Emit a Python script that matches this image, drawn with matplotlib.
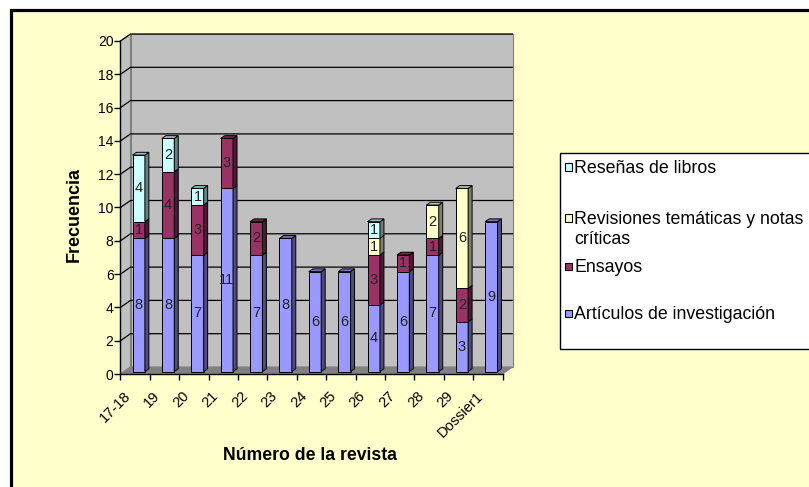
import numpy as np
import matplotlib
matplotlib.use('Agg')
import matplotlib.pyplot as plt
from matplotlib.patches import Polygon, Rectangle
from matplotlib.transforms import ScaledTranslation

plt.rcParams['font.family'] = ['Liberation Sans', 'DejaVu Sans']

# datos
numeros = ['17-18', '19', '20', '21', '22', '23', '24', '25', '26', '27', '28', '29', 'Dossier1']
articulos = [8, 8, 7, 11, 7, 8, 6, 6, 4, 6, 7, 3, 9]
ensayos = [1, 4, 3, 3, 2, 0, 0, 0, 3, 1, 1, 2, 0]
revisiones = [0, 0, 0, 0, 0, 0, 0, 0, 1, 0, 2, 6, 0]
resenas = [4, 2, 1, 0, 0, 0, 0, 0, 1, 0, 0, 0, 0]

series = [articulos, ensayos, revisiones, resenas]
nombres = [['Artículos de investigación'], ['Ensayos'],
           ['Revisiones temáticas y notas', 'críticas'], ['Reseñas de libros']]
colores = ['#9999FF', '#993366', '#FFFFCC', '#CCFFFF']

W, H = 809, 487
fig = plt.figure(figsize=(W / 100, H / 100), dpi=100, facecolor='white')

# fondo amarillo con marco negro (cortado a la derecha y abajo)
fig.add_artist(Rectangle((11 / W, -0.1), 1.2, 1.1 - 9.5 / H, transform=fig.transFigure,
                         fc='#FFFFCC', ec='black', lw=2.3, zorder=0))

# ejes en la cara frontal
ax_l, ax_b, ax_w, ax_h = 120.5, 374, 382, 333
ax = fig.add_axes([ax_l / W, 1 - ax_b / H, ax_w / W, ax_h / H])
n = len(numeros)
ymax = 20
ax.set_xlim(0, n)
ax.set_ylim(0, ymax)
ax.patch.set_visible(False)
for s in ['top', 'right']:
    ax.spines[s].set_visible(False)
for s in ['left', 'bottom']:
    ax.spines[s].set_linewidth(1.0)

ppx = ax_w / n
ppy = ax_h / ymax
DX, DY = 10 / ppx, 7 / ppy   # profundidad del efecto 3D

# pared del fondo, lateral y suelo
ax.add_patch(Rectangle((DX, DY), n, ymax, fc='#C0C0C0', ec='#808080', lw=0.8,
                       clip_on=False, zorder=0))
ax.add_patch(Polygon([(0, 0), (DX, DY), (DX, ymax + DY), (0, ymax)], closed=True,
                     fc='#C0C0C0', ec='#808080', lw=0.8, clip_on=False, zorder=0))
ax.add_patch(Polygon([(0, 0), (n, 0), (n + DX, DY), (DX, DY)], closed=True,
                     fc='#808080', ec='#808080', lw=0.8, clip_on=False, zorder=0.5))

for y in range(2, ymax + 1, 2):
    ax.plot([0, DX, n + DX], [y + 0, y + DY, y + DY], color='black', lw=0.9,
            clip_on=False, zorder=1)

# barras apiladas con caras laterales y superiores
bw = 0.42
fs, fd = 0.35, 0.4
bx, by = fd * DX, fd * DY


def oscuro(c, f):
    r, g, b = matplotlib.colors.to_rgb(c)
    return (r * f, g * f, b * f)


totales = np.sum(series, axis=0)
for i in range(n):
    x0 = i + 0.5 - bw / 2 + fs * DX
    x1 = x0 + bw
    base = fs * DY
    for k, vals in enumerate(series):
        v = vals[i]
        if v == 0:
            continue
        y0, y1 = base, base + v
        ax.add_patch(Rectangle((x0, y0), bw, v, fc=colores[k], ec='black', lw=0.7, zorder=3))
        ax.add_patch(Polygon([(x1, y0), (x1 + bx, y0 + by), (x1 + bx, y1 + by), (x1, y1)],
                             closed=True, fc=oscuro(colores[k], 0.5), ec='black', lw=0.7,
                             zorder=3, clip_on=False))
        if abs(y1 - fs * DY - totales[i]) < 1e-9:
            ax.add_patch(Polygon([(x0, y1), (x1, y1), (x1 + bx, y1 + by), (x0 + bx, y1 + by)],
                                 closed=True, fc=oscuro(colores[k], 0.75), ec='black',
                                 lw=0.7, zorder=3, clip_on=False))
        ax.text((x0 + x1) / 2, (y0 + y1) / 2, str(v), ha='center', va='center',
                fontsize=10.5, color='#222222', zorder=4)
        base = y1

# ejes y marcas
ax.set_yticks(range(0, ymax + 1, 2))
ax.tick_params(axis='y', direction='out', length=4, width=1, labelsize=10, pad=1)
ax.set_xticks(np.arange(n) + 0.5)
ax.set_xticks(np.arange(n + 1), minor=True)
ax.tick_params(axis='x', which='major', length=0, pad=0, labelsize=10.5)
ax.tick_params(axis='x', which='minor', direction='out', length=4, width=1)
ax.set_xticklabels(numeros, rotation=45, ha='right', va='top', rotation_mode='anchor')
for lab in ax.get_xticklabels():
    lab.set_transform(lab.get_transform() + ScaledTranslation(-0.12, -0.15, fig.dpi_scale_trans))

fig.text(74 / W, 1 - 215 / H, 'Frecuencia', rotation=90, ha='center', va='center',
         fontsize=13, fontweight='bold')
fig.text(310 / W, 1 - 455 / H, 'Número de la revista', ha='center', va='center',
         fontsize=12.7, fontweight='bold')

# leyenda
fig.add_artist(Rectangle((560 / W, 1 - 349 / H), 260 / W, 196 / H, transform=fig.transFigure,
                         fc='white', ec='black', lw=1, zorder=2))
ley_y = [313, 266, 218, 167]
for k in range(len(series)):
    yc = ley_y[k]
    fig.add_artist(Rectangle((565 / W, 1 - (yc + 3.5) / H), 7 / W, 7 / H,
                             transform=fig.transFigure, fc=colores[k], ec='black',
                             lw=0.8, zorder=3))
    for j, linea in enumerate(nombres[k]):
        fig.text(574 / W, 1 - (yc + 6 + 20 * j) / H, linea, ha='left', va='baseline',
                 fontsize=12.8, zorder=3)

fig.savefig('out.png', dpi=100)
